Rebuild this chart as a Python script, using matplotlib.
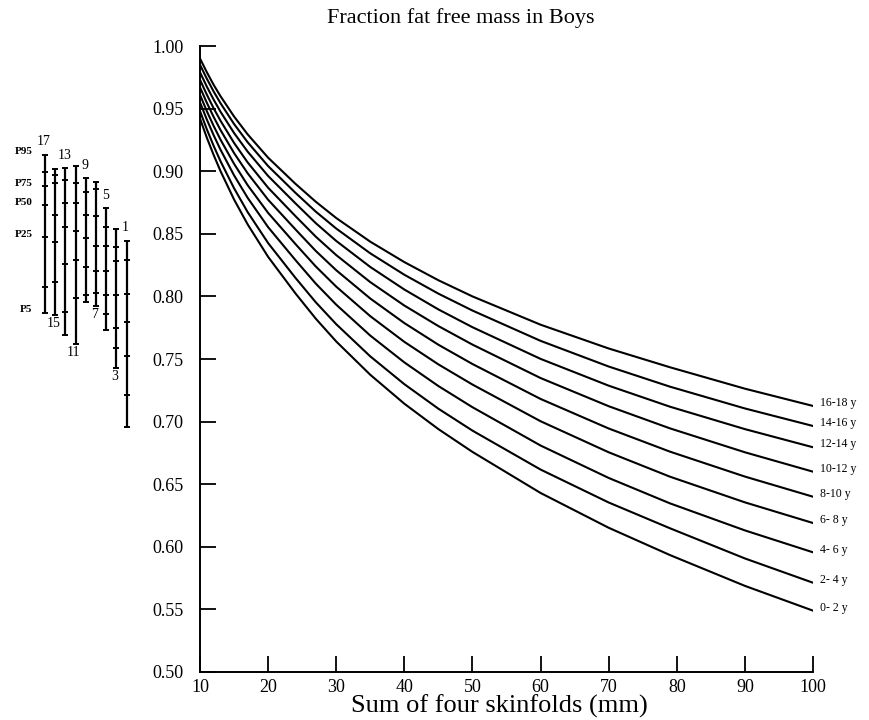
import numpy as np
import matplotlib.pyplot as plt

plt.rcParams['font.family'] = ['Liberation Serif', 'DejaVu Serif']

skinfolds = [10, 11, 12, 13, 15, 17, 20, 24, 27, 30, 35, 40, 45, 50, 60, 70, 79, 90, 100]

curve_labels = ['0- 2 y', '2- 4 y', '4- 6 y', '6- 8 y', '8-10 y',
                '10-12 y', '12-14 y', '14-16 y', '16-18 y']

ffm_0_2 = [0.942, 0.9268, 0.913, 0.9002, 0.8774, 0.8575, 0.8316, 0.8025, 0.7822, 0.764,
           0.7374, 0.7143, 0.694, 0.6758, 0.643, 0.6152, 0.5934, 0.5688, 0.549]
ffm_2_4 = [0.948, 0.9335, 0.9203, 0.9081, 0.8864, 0.8673, 0.8426, 0.8149, 0.7953, 0.7778,
           0.7521, 0.7299, 0.7103, 0.6928, 0.6617, 0.6354, 0.6148, 0.5907, 0.5713]
ffm_4_6 = [0.955, 0.9413, 0.9288, 0.9173, 0.8967, 0.8787, 0.8553, 0.8291, 0.8102, 0.7934,
           0.7687, 0.7473, 0.7284, 0.7115, 0.6809, 0.655, 0.6347, 0.6131, 0.5956]
ffm_6_8 = [0.961, 0.948, 0.9362, 0.9253, 0.9059, 0.8888, 0.8667, 0.8419, 0.8239, 0.8078,
           0.7842, 0.7637, 0.7457, 0.7296, 0.7003, 0.6755, 0.656, 0.6355, 0.619]
ffm_8_10 = [0.967, 0.9547, 0.9434, 0.933, 0.9145, 0.8983, 0.8772, 0.8536, 0.8363, 0.8209,
            0.7983, 0.7787, 0.7614, 0.746, 0.7181, 0.6945, 0.676, 0.6561, 0.640]
ffm_10_12 = [0.973, 0.9612, 0.9503, 0.9404, 0.9226, 0.907, 0.8868, 0.8642, 0.8477, 0.833,
             0.8114, 0.7927, 0.7763, 0.7615, 0.7348, 0.7123, 0.6946, 0.6755, 0.660]
ffm_12_14 = [0.979, 0.9676, 0.9572, 0.9476, 0.9305, 0.9156, 0.8962, 0.8744, 0.8585, 0.8443,
             0.8235, 0.8055, 0.7896, 0.7754, 0.7501, 0.7287, 0.7119, 0.694, 0.6795]
ffm_14_16 = [0.985, 0.9739, 0.9637, 0.9544, 0.9377, 0.9231, 0.9041, 0.8828, 0.8677, 0.8542,
             0.8344, 0.8173, 0.8022, 0.7887, 0.7645, 0.744, 0.7279, 0.7105, 0.6965]
ffm_16_18 = [0.990, 0.9791, 0.969, 0.96, 0.9437, 0.9294, 0.9108, 0.890, 0.8756, 0.8626,
             0.8437, 0.8274, 0.8129, 0.800, 0.7774, 0.7584, 0.7434, 0.7263, 0.7125]

# percentile bars on the left, one per age (years)
bar_ages = [17, 15, 13, 11, 9, 7, 5, 3, 1]
p95 = [0.9132, 0.9015, 0.9023, 0.9042, 0.8943, 0.8916, 0.8704, 0.8538, 0.8445]
p90 = [0.8994, 0.8972, 0.8932, 0.8903, 0.8836, 0.8855, 0.8557, 0.8397, 0.8291]
p75 = [0.8882, 0.8903, 0.8748, 0.8744, 0.8650, 0.8645, 0.8405, 0.8283, 0.8019]
p50 = [0.8730, 0.8650, 0.8552, 0.8525, 0.8464, 0.8405, 0.8205, 0.8011, 0.7798]
p25 = [0.8472, 0.8437, 0.8256, 0.8291, 0.8237, 0.8203, 0.8011, 0.7750, 0.7524]
p10 = [0.8077, 0.8113, 0.7873, 0.7990, 0.8011, 0.8025, 0.7859, 0.7590, 0.7212]
p5 = [0.7870, 0.7851, 0.7689, 0.7617, 0.7953, 0.7923, 0.7732, 0.7426, 0.6959]

W, H = 869, 720
fig = plt.figure(figsize=(W / 100, H / 100), dpi=100)
ax = fig.add_axes([200 / W, 1 - 672 / H, 613 / W, 626 / H])

curves = [ffm_0_2, ffm_2_4, ffm_4_6, ffm_6_8, ffm_8_10,
          ffm_10_12, ffm_12_14, ffm_14_16, ffm_16_18]
for lab, vals in zip(curve_labels, curves):
    ax.plot(skinfolds, vals, color='k', lw=1.5, solid_joinstyle='round')
    ax.annotate(lab, (skinfolds[-1], vals[-1]), xytext=(5, 2),
                textcoords='offset points', ha='left', va='center',
                fontsize=8.5)

ax.set_xlim(10, 100)
ax.set_ylim(0.5, 1.0)
ax.set_xticks(np.arange(10, 101, 10))
ax.set_yticks(np.arange(0.5, 1.001, 0.05))
ax.yaxis.set_major_formatter(plt.FormatStrFormatter('%.2f'))
for s in ['top', 'right']:
    ax.spines[s].set_visible(False)
for s in ['left', 'bottom']:
    ax.spines[s].set_linewidth(1.4)
ax.tick_params(axis='both', direction='in', length=11.5, width=1.3,
               labelsize=13)
ax.tick_params(axis='y', pad=12)
ax.tick_params(axis='x', pad=5)

# percentile bars
bx = fig.add_axes([39.9 / W, 1 - 672 / H, 91.9 / W, 626 / H])
bx.set_xlim(-0.5, 8.5)
bx.set_ylim(0.5, 1.0)
bx.axis('off')
idx = np.arange(len(bar_ages))
bx.vlines(idx, p5, p95, color='k', lw=1.6)
for arr in [p5, p10, p25, p50, p75, p90, p95]:
    bx.plot(idx, arr, '_', color='k', ms=5, mew=1.4)

for name, arr in [('P95', p95), ('P75', p75), ('P50', p50),
                  ('P25', p25), ('P5', p5)]:
    bx.annotate(name, (0, arr[0]), xytext=(-9, 2), textcoords='offset points',
                ha='right', va='center', fontsize=8, fontweight='bold')

for i, age in enumerate(bar_ages):
    if i % 2 == 0:
        bx.annotate(str(age), (i, p95[i]), xytext=(-0.7, 9.5),
                    textcoords='offset points', ha='center', va='center',
                    fontsize=10)
    else:
        bx.annotate(str(age), (i, p5[i]), xytext=(-1.4, -6),
                    textcoords='offset points', ha='center', va='center',
                    fontsize=10)

fig.text(461 / W, 1 - 18 / H, 'Fraction fat free mass in Boys',
         ha='center', va='center', fontsize=16)
fig.text(499 / W, 1 - 706 / H, 'Sum of four skinfolds (mm)',
         ha='center', va='center', fontsize=19)

fig.savefig('out.png', dpi=100)
